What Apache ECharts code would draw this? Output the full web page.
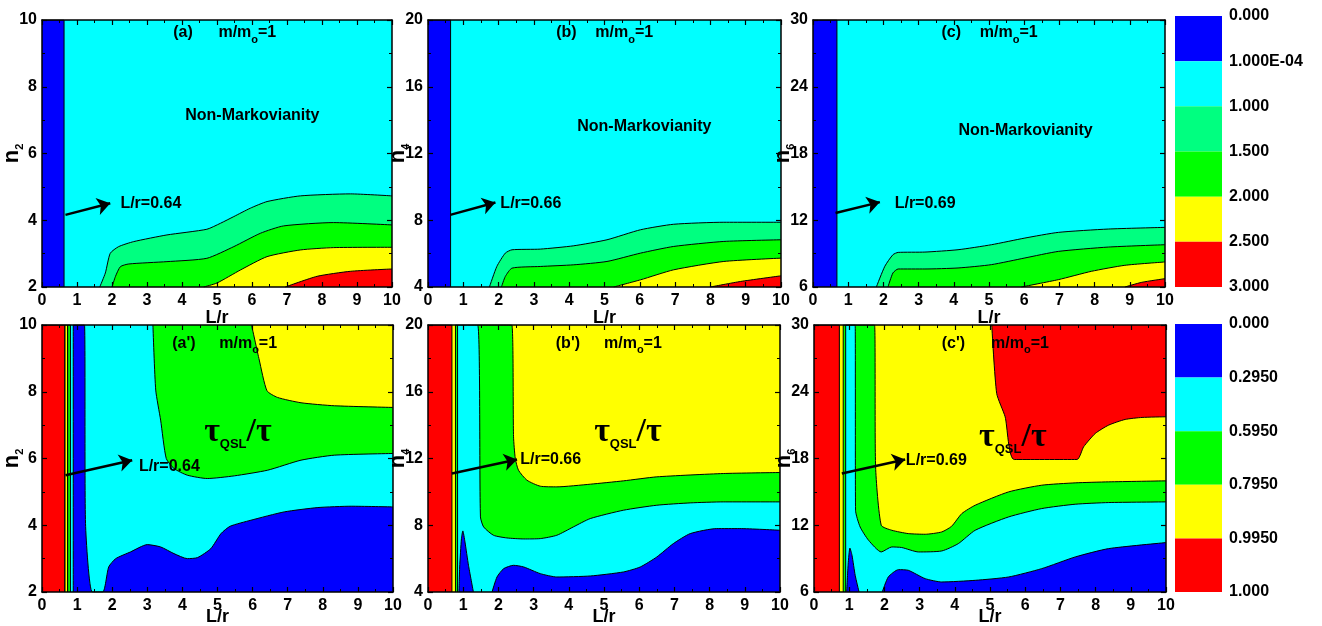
<!DOCTYPE html>
<html>
<head>
<meta charset="utf-8">
<title>Non-Markovianity and QSL contours</title>
<style>
    html, body { margin: 0; padding: 0; background: #fff; }
    #main { width: 1322px; height: 626px; }
</style>
</head>
<body>
<div id="main"></div>
<script src="https://cdn.jsdelivr.net/npm/echarts@6/dist/echarts.min.js"></script>
<script>
// contour boundaries, points are [L/r, n]

// (a) n2, 2..10
var aStrip = [[0, 10], [0.63, 10], [0.63, 2]];
var aC1 = [[1.65, 2], [1.81, 2.42], [1.95, 3.01], [2.19, 3.21], [2.62, 3.36], [3.57, 3.56], [4.71, 3.73], [5.1, 3.91], [5.48, 4.11], [5.95, 4.36], [6.43, 4.56], [7.38, 4.73], [8.81, 4.79], [10, 4.73]];
var aC2 = [[2.0, 2], [2.1, 2.32], [2.24, 2.61], [2.48, 2.69], [3.57, 2.76], [4.71, 2.86], [5.48, 3.21], [6.24, 3.61], [6.9, 3.83], [8.33, 3.93], [10, 3.86]];
var aC3 = [[4.62, 2], [5.0, 2.12], [5.67, 2.51], [6.43, 2.91], [7.38, 3.11], [8.33, 3.18], [10, 3.19]];
var aC4 = [[6.95, 2], [7.86, 2.32], [8.81, 2.47], [10, 2.54]];

// (b) n4, 4..20
var bStrip = [[0, 20], [0.64, 20], [0.64, 4]];
var bC1 = [[1.74, 4], [1.95, 5.23], [2.19, 6.03], [2.38, 6.23], [3.18, 6.27], [4.13, 6.47], [5.07, 6.83], [6.02, 7.43], [6.96, 7.76], [8.38, 7.88], [10, 7.88]];
var bC2 = [[2.08, 4], [2.19, 4.63], [2.38, 5.13], [3.18, 5.23], [4.13, 5.33], [5.07, 5.53], [6.02, 6.03], [6.96, 6.43], [8.38, 6.73], [10, 6.83]];
var bC3 = [[5.26, 4], [6.02, 4.43], [6.96, 5.03], [8.38, 5.53], [10, 5.73]];
var bC4 = [[8.0, 4], [8.85, 4.33], [10, 4.67]];

// (c) n6, 6..30
var cStrip = [[0, 30], [0.68, 30], [0.68, 6]];
var cC1 = [[1.8, 6], [2.04, 7.86], [2.27, 8.9], [2.42, 9.11], [3.18, 9.14], [4.12, 9.35], [5.07, 9.8], [6.02, 10.4], [6.97, 10.91], [8.39, 11.21], [10, 11.36]];
var cC2 = [[2.13, 6], [2.27, 7.26], [2.42, 7.62], [3.18, 7.62], [4.12, 7.71], [5.07, 8.01], [6.02, 8.61], [6.97, 9.2], [8.39, 9.59], [10, 9.8]];
var cC3 = [[5.92, 6], [6.97, 6.66], [7.91, 7.41], [8.86, 7.95], [10, 8.25]];
var cC4 = [[8.86, 6], [9.34, 6.42], [10, 6.75]];

// (a') n2, 2..10
var apRed = [[0, 10], [0.65, 10], [0.65, 2]];
var apYellow = [[0.65, 2], [0.65, 10], [0.73, 10], [0.73, 2]];
var apGreen = [[0.73, 2], [0.73, 10], [0.81, 10], [0.81, 2]];
var apGreenTop = [[3.16, 10], [3.24, 8.05], [3.38, 7.15], [3.54, 6.0], [3.76, 5.7], [4.14, 5.5], [4.71, 5.4], [5.48, 5.48], [6.43, 5.65], [7.38, 5.95], [8.33, 6.1], [10, 6.15]];
var apYellowTop = [[5.97, 10], [6.19, 8.95], [6.41, 8.03], [6.71, 7.83], [7.38, 7.67], [8.33, 7.58], [10, 7.53]];
var apBlue = [[0.89, 2], [0.89, 10], [1.21, 10], [1.24, 4.05], [1.43, 2], [1.73, 2], [1.9, 2.75], [2.1, 3.0], [2.52, 3.2], [3.0, 3.42], [3.38, 3.35], [3.76, 3.15], [4.14, 3.0], [4.43, 3.03], [4.81, 3.3], [5.1, 3.75], [5.36, 3.97], [5.95, 4.15], [6.9, 4.4], [7.86, 4.53], [8.81, 4.57], [10, 4.55]];

// (b') n4, 4..20
var bpRed = [[0, 20], [0.68, 20], [0.68, 4]];
var bpThin = [[0.78, 4], [0.78, 20], [0.84, 20], [0.84, 4]];
var bpGreen = [[1.41, 20], [2.38, 20], [2.43, 13.3], [2.48, 12.0], [2.57, 11.3], [2.81, 10.7], [3.19, 10.34], [3.66, 10.3], [4.61, 10.46], [5.55, 10.66], [6.5, 10.9], [8.39, 11.1], [10, 11.16]];
var bpCyan = [[0.84, 20], [1.41, 20], [1.49, 8.5], [1.58, 7.9], [1.86, 7.4], [2.24, 7.24], [2.72, 7.18], [3.19, 7.2], [3.66, 7.4], [4.13, 7.9], [4.61, 8.4], [5.55, 8.9], [6.5, 9.2], [7.45, 9.34], [8.39, 9.4], [10, 9.4]];
var bpSpike = [[0.88, 4], [0.9, 5.5], [0.95, 7.2], [0.99, 7.66], [1.05, 7.0], [1.15, 5.6], [1.29, 4]];
var bpBlue = [[1.82, 4], [1.96, 4.9], [2.15, 5.4], [2.43, 5.6], [2.72, 5.5], [3.19, 5.1], [3.66, 4.9], [4.61, 4.96], [5.55, 5.2], [6.03, 5.5], [6.5, 6.1], [6.97, 6.9], [7.45, 7.5], [8.2, 7.8], [8.86, 7.8], [10, 7.7]];

// (c') n6, 6..30
var cpRed = [[0, 30], [0.72, 30], [0.72, 6]];
var cpThin = [[0.83, 6], [0.83, 30], [0.9, 30], [0.9, 6]];
var cpGreen = [[0.9, 30], [1.72, 30], [1.75, 17.25], [1.91, 12.0], [2.21, 11.55], [2.68, 11.25], [3.16, 11.19], [3.63, 11.4], [3.91, 11.91], [4.2, 13.05], [4.58, 13.8], [5.53, 15.0], [6.47, 15.6], [7.42, 15.81], [8.37, 15.9], [10, 15.99]];
var cpCyan = [[0.9, 30], [1.17, 30], [1.18, 13.35], [1.31, 11.85], [1.55, 10.65], [1.91, 9.6], [2.21, 10.05], [2.49, 10.0], [2.97, 9.6], [3.63, 9.69], [4.1, 10.35], [4.58, 11.55], [5.53, 12.75], [6.47, 13.5], [7.42, 13.89], [8.37, 14.04], [10, 14.1]];
var cpSpike = [[0.93, 6], [0.97, 8.5], [1.02, 9.95], [1.08, 9.3], [1.17, 7.5], [1.28, 6]];
var cpBlue = [[1.94, 6], [2.11, 7.35], [2.4, 8.01], [2.68, 7.95], [3.16, 7.2], [3.63, 6.9], [4.58, 7.05], [5.53, 7.35], [6.47, 8.1], [7.42, 9.15], [8.37, 9.9], [10, 10.44]];
var cpRedTop = [[5.05, 30], [5.19, 23.85], [5.43, 21.75], [5.69, 17.91], [7.47, 17.91], [7.66, 19.05], [7.99, 20.25], [8.37, 21.0], [8.84, 21.51], [9.32, 21.69], [10, 21.75]];

// arrows [from, to]
var arrows = [
    [[0.67, 4.16], [1.95, 4.51]],
    [[0.63, 8.32], [1.91, 9.06]],
    [[0.64, 12.65], [1.9, 13.63]],
    [[0.67, 5.5], [2.57, 5.95]],
    [[0.68, 11.1], [2.53, 11.94]],
    [[0.79, 16.65], [2.59, 17.91]]
];

// colour bar tick labels
var cbTopLabels = ['0.000', '1.000E-04', '1.000', '1.500', '2.000', '2.500', '3.000'];
var cbBotLabels = ['0.000', '0.2950', '0.5950', '0.7950', '0.9950', '1.000'];

var BLUE = '#0000ff', CYAN = '#00ffff', SPRING = '#00ff80', GREEN = '#00ff00', YELLOW = '#ffff00', RED = '#ff0000';
var cbTopColors = [BLUE, CYAN, SPRING, GREEN, YELLOW, RED];
var cbBotColors = [BLUE, CYAN, GREEN, YELLOW, RED];

var FONT = '"Liberation Sans", Arial, sans-serif';
var SERIF = '"Liberation Serif", "Times New Roman", serif';

// panel layout
var panels = [
    {left: 42, top: 20, width: 350, min: 2, max: 10, step: 2, sub: '2', bg: CYAN, gap: 22},
    {left: 428, top: 20, width: 353, min: 4, max: 20, step: 4, sub: '4', bg: CYAN, gap: 22},
    {left: 813, top: 20, width: 352, min: 6, max: 30, step: 6, sub: '6', bg: CYAN, gap: 22},
    {left: 42, top: 325, width: 351, min: 2, max: 10, step: 2, sub: '2', bg: CYAN, gap: 16},
    {left: 428, top: 325, width: 352, min: 4, max: 20, step: 4, sub: '4', bg: YELLOW, gap: 16},
    {left: 814, top: 325, width: 352, min: 6, max: 30, step: 6, sub: '6', bg: YELLOW, gap: 16}
];
var PH = 267;

// fill layers per panel: [data, colour, origin, smooth]
var layers = [
    [[aStrip, BLUE, 'start', false], [aC1, SPRING, 'start', true], [aC2, GREEN, 'start', true], [aC3, YELLOW, 'start', true], [aC4, RED, 'start', true]],
    [[bStrip, BLUE, 'start', false], [bC1, SPRING, 'start', true], [bC2, GREEN, 'start', true], [bC3, YELLOW, 'start', true], [bC4, RED, 'start', true]],
    [[cStrip, BLUE, 'start', false], [cC1, SPRING, 'start', true], [cC2, GREEN, 'start', true], [cC3, YELLOW, 'start', true], [cC4, RED, 'start', true]],
    [[apGreenTop, GREEN, 'end', true], [apYellowTop, YELLOW, 'end', true], [apBlue, BLUE, 'start', true],
        [apRed, RED, 'start', false], [apYellow, YELLOW, 'start', false], [apGreen, GREEN, 'start', false]],
    [[bpGreen, GREEN, 'start', true], [bpCyan, CYAN, 'start', true], [bpSpike, BLUE, 'start', true], [bpBlue, BLUE, 'start', true],
        [bpRed, RED, 'start', false], [bpThin, GREEN, 'start', false]],
    [[cpGreen, GREEN, 'start', true], [cpCyan, CYAN, 'start', true], [cpSpike, BLUE, 'start', true], [cpBlue, BLUE, 'start', true],
        [cpRedTop, RED, 'end', true], [cpRed, RED, 'start', false], [cpThin, GREEN, 'start', false]]
];

var RICH = {
    b: {fontSize: 16, fontWeight: 'bold', fontFamily: FONT, color: '#000', lineHeight: 24},
    s: {fontSize: 11, fontWeight: 'bold', fontFamily: FONT, color: '#000', lineHeight: 10, verticalAlign: 'bottom'},
    t: {fontSize: 34, fontWeight: 'bold', fontFamily: SERIF, color: '#000', lineHeight: 38},
    q: {fontSize: 13, fontWeight: 'bold', fontFamily: FONT, color: '#000', lineHeight: 12, verticalAlign: 'bottom'}
};
var MM = '{b|m/m}{s|o}{b|=1}';
var TAU = '{t|τ}{q|QSL}{t|/τ}';
var NM = '{b|Non-Markovianity}';

var notes = [
    {p: 0, x: 3.75, y: 9.61, t: '{b|(a)}'}, {p: 0, x: 5.04, y: 9.61, t: MM},
    {p: 0, x: 6.01, y: 7.13, t: NM, c: true}, {p: 0, x: 2.24, y: 4.5, t: '{b|L/r=0.64}'},
    {p: 1, x: 3.63, y: 19.22, t: '{b|(b)}'}, {p: 1, x: 4.74, y: 19.22, t: MM},
    {p: 1, x: 6.13, y: 13.6, t: NM, c: true}, {p: 1, x: 2.05, y: 8.98, t: '{b|L/r=0.66}'},
    {p: 2, x: 3.65, y: 28.83, t: '{b|(c)}'}, {p: 2, x: 4.74, y: 28.83, t: MM},
    {p: 2, x: 6.04, y: 20.05, t: NM, c: true}, {p: 2, x: 2.32, y: 13.48, t: '{b|L/r=0.69}'},
    {p: 3, x: 3.71, y: 9.45, t: "{b|(a')}"}, {p: 3, x: 5.05, y: 9.45, t: MM},
    {p: 3, x: 4.62, y: 6.8, t: TAU}, {p: 3, x: 2.76, y: 5.77, t: '{b|L/r=0.64}'},
    {p: 4, x: 3.63, y: 18.9, t: "{b|(b')}"}, {p: 4, x: 5.0, y: 18.9, t: MM},
    {p: 4, x: 4.72, y: 13.6, t: TAU}, {p: 4, x: 2.62, y: 11.96, t: '{b|L/r=0.66}'},
    {p: 5, x: 3.63, y: 28.35, t: "{b|(c')}"}, {p: 5, x: 5.03, y: 28.35, t: MM},
    {p: 5, x: 4.69, y: 19.95, t: TAU}, {p: 5, x: 2.61, y: 17.79, t: '{b|L/r=0.69}'}
];

var grids = [], xAxes = [], yAxes = [], series = [];
var tick = {inside: true, length: 5, lineStyle: {color: '#000', width: 1.2}};
var minor = {show: true, splitNumber: 2, length: 3, lineStyle: {color: '#000', width: 1}};
var axLine = {show: true, onZero: false, lineStyle: {color: '#000', width: 1.5}};
var lbl = {color: '#000', fontSize: 16, fontWeight: 'bold', fontFamily: FONT};

panels.forEach(function (p, i) {
    grids.push({left: p.left, top: p.top, width: p.width, height: PH, show: true,
        backgroundColor: p.bg, borderWidth: 0, containLabel: false, outerBoundsMode: 'none'});
    xAxes.push({gridIndex: i, type: 'value', min: 0, max: 10, interval: 1, position: 'bottom', z: 10,
        axisLine: axLine, axisTick: tick, minorTick: minor, splitLine: {show: false},
        axisLabel: Object.assign({margin: 6}, lbl),
        name: 'L/r', nameLocation: 'middle', nameGap: p.gap, nameMoveOverlap: false,
        nameTextStyle: {color: '#000', fontSize: 18, fontWeight: 'bold', fontFamily: FONT}});
    xAxes.push({gridIndex: i, type: 'value', min: 0, max: 10, interval: 1, position: 'top', z: 10,
        axisLine: axLine, axisTick: tick, minorTick: minor, splitLine: {show: false}, axisLabel: {show: false}});
    yAxes.push({gridIndex: i, type: 'value', min: p.min, max: p.max, interval: p.step, position: 'left', z: 10,
        axisLine: axLine, axisTick: tick, minorTick: minor, splitLine: {show: false},
        axisLabel: Object.assign({margin: 5}, lbl),
        name: '{n|n}{s|' + p.sub + '}', nameLocation: 'middle', nameGap: 17, nameMoveOverlap: false,
        nameTextStyle: {rich: {
            n: {fontSize: 22, fontWeight: 'bold', fontFamily: FONT, color: '#000', lineHeight: 26},
            s: {fontSize: 11, fontWeight: 'bold', fontFamily: FONT, color: '#000', lineHeight: 10, verticalAlign: 'bottom'}
        }}});
    yAxes.push({gridIndex: i, type: 'value', min: p.min, max: p.max, interval: p.step, position: 'right', z: 10,
        axisLine: axLine, axisTick: tick, minorTick: minor, splitLine: {show: false}, axisLabel: {show: false}});

    layers[i].forEach(function (l) {
        series.push({
            type: 'line', xAxisIndex: 2 * i, yAxisIndex: 2 * i,
            data: l[0], symbol: 'none', showSymbol: false, silent: true,
            smooth: l[3] ? 0.2 : false,
            lineStyle: {color: '#000', width: 1},
            areaStyle: {color: l[1], opacity: 1, origin: l[2]}
        });
    });

    // arrow
    series.push({
        type: 'line', xAxisIndex: 2 * i, yAxisIndex: 2 * i, data: [], silent: true,
        markLine: {
            silent: true, symbol: ['none', 'arrow'], symbolSize: 13,
            label: {show: false},
            lineStyle: {color: '#000', width: 2.5, type: 'solid'},
            data: [[{coord: arrows[i][0]}, {coord: arrows[i][1]}]]
        }
    });
});

// colour bars
function colourBar(idx, top, height, colors, labels, stack) {
    grids.push({left: 1175, top: top, width: 47, height: height, containLabel: false, outerBoundsMode: 'none'});
    xAxes.push({gridIndex: idx, type: 'category', data: ['bar'], show: false});
    yAxes.push({gridIndex: idx, type: 'value', min: 0, max: colors.length, interval: 1, inverse: true,
        position: 'right', axisLine: {show: false}, axisTick: {show: false}, splitLine: {show: false},
        axisLabel: Object.assign({margin: 7, showMinLabel: true, showMaxLabel: true,
            formatter: function (v) { return labels[v]; }}, lbl, {fontSize: 16})});
    colors.forEach(function (c) {
        series.push({type: 'bar', xAxisIndex: xAxes.length - 1, yAxisIndex: yAxes.length - 1, stack: stack,
            data: [1], barWidth: '100%', silent: true, itemStyle: {color: c}});
    });
}
colourBar(6, 16, 271, cbTopColors, cbTopLabels, 'top');
colourBar(7, 324, 268, cbBotColors, cbBotLabels, 'bot');

var chart = echarts.init(document.getElementById('main'));
chart.setOption({
    animation: false,
    backgroundColor: '#fff',
    grid: grids,
    xAxis: xAxes,
    yAxis: yAxes,
    series: series
});

// in-panel texts, placed through the panel scales
var graphics = notes.map(function (n) {
    var pt = chart.convertToPixel({xAxisIndex: 2 * n.p, yAxisIndex: 2 * n.p}, [n.x, n.y]);
    return {
        type: 'text', x: pt[0], y: pt[1], z: 100, silent: true,
        style: {text: n.t, rich: RICH, fill: '#000', align: n.c ? 'center' : 'left', verticalAlign: 'middle'}
    };
});
chart.setOption({graphic: graphics});
</script>
</body>
</html>
